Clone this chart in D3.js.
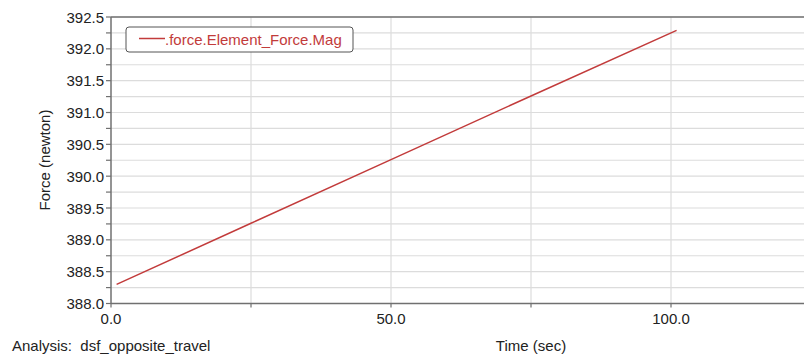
<!DOCTYPE html>
<html><head><meta charset="utf-8">
<script src="https://cdn.jsdelivr.net/npm/d3@7"></script>
<style>body{margin:0;background:#fff}svg{display:block;font-family:"Liberation Sans",Arial,sans-serif}</style>
</head><body><svg id="c" width="804" height="358"></svg>
<script>
const time = [1, 25, 50, 75, 101];
const force = [388.30, 389.26, 390.26, 391.26, 392.29];
const seriesName = ".force.Element_Force.Mag";
const xLabels = [0, 50, 100];
const yLabels = [388.0, 388.5, 389.0, 389.5, 390.0, 390.5, 391.0, 391.5, 392.0, 392.5];

const svg = d3.select("#c");
const L = 111, T = 17, B = 303.5;
const x = d3.scaleLinear().domain([0, 125]).range([L, L + 700]);
const y = d3.scaleLinear().domain([388, 392.5]).range([B, T]);

const g = svg.append("g");
const yMinor = d3.range(388, 392.51, 0.25);
g.selectAll(".hg").data(yMinor).join("line")
  .attr("x1", L).attr("x2", 804).attr("y1", d => y(d)).attr("y2", d => y(d))
  .attr("stroke", "#dcdcdc").attr("stroke-width", 1.2);
const xGrid = d3.range(25, 126, 25);
g.selectAll(".vg").data(xGrid).join("line")
  .attr("x1", d => x(d)).attr("x2", d => x(d)).attr("y1", T).attr("y2", B)
  .attr("stroke", "#dcdcdc").attr("stroke-width", 1.2);

g.append("line").attr("x1", L).attr("x2", 804).attr("y1", T).attr("y2", T).attr("stroke", "#707070").attr("stroke-width", 1.5);
g.append("line").attr("x1", L).attr("x2", 804).attr("y1", B).attr("y2", B).attr("stroke", "#707070").attr("stroke-width", 1.5);
g.append("line").attr("x1", L).attr("x2", L).attr("y1", T).attr("y2", B).attr("stroke", "#707070").attr("stroke-width", 1.5);

g.selectAll(".yt").data(yMinor).join("line")
  .attr("x1", L - 5).attr("x2", L).attr("y1", d => y(d)).attr("y2", d => y(d))
  .attr("stroke", "#707070").attr("stroke-width", 1.2);
g.selectAll(".yl").data(yLabels).join("text")
  .attr("x", L - 7).attr("y", d => y(d) + 5.5).attr("text-anchor", "end")
  .attr("font-size", 15).attr("fill", "#222").text(d => d.toFixed(1));
g.selectAll(".xt").data(d3.range(0, 126, 25)).join("line")
  .attr("x1", d => x(d)).attr("x2", d => x(d)).attr("y1", B).attr("y2", B + 4)
  .attr("stroke", "#707070").attr("stroke-width", 1.2);
g.selectAll(".xl").data(xLabels).join("text")
  .attr("x", d => x(d)).attr("y", B + 20).attr("text-anchor", "middle")
  .attr("font-size", 15).attr("fill", "#222").text(d => d.toFixed(1));

const pts = time.map((t, i) => [t, force[i]]);
g.append("path").datum(pts)
  .attr("d", d3.line().x(d => x(d[0])).y(d => y(d[1])))
  .attr("fill", "none").attr("stroke", "#c23b3b").attr("stroke-width", 1.5);

g.append("rect").attr("x", 126).attr("y", 27).attr("width", 227).attr("height", 25).attr("rx", 3)
  .attr("fill", "#fff").attr("stroke", "#555").attr("stroke-width", 1);
g.append("line").attr("x1", 139).attr("x2", 165).attr("y1", 38.5).attr("y2", 38.5)
  .attr("stroke", "#c23b3b").attr("stroke-width", 1.5);
g.append("text").attr("x", 165).attr("y", 44.5).attr("font-size", 15).attr("fill", "#c23b3b").text(seriesName);

svg.append("text").attr("x", 12).attr("y", 351).attr("font-size", 15).attr("fill", "#222")
  .attr("xml:space", "preserve").text("Analysis:  dsf_opposite_travel");
svg.append("text").attr("x", 531).attr("y", 351).attr("text-anchor", "middle").attr("font-size", 15).attr("fill", "#222").text("Time (sec)");
svg.append("text").attr("transform", "translate(50,160) rotate(-90)").attr("text-anchor", "middle")
  .attr("font-size", 15).attr("fill", "#222").text("Force (newton)");
</script></body></html>
